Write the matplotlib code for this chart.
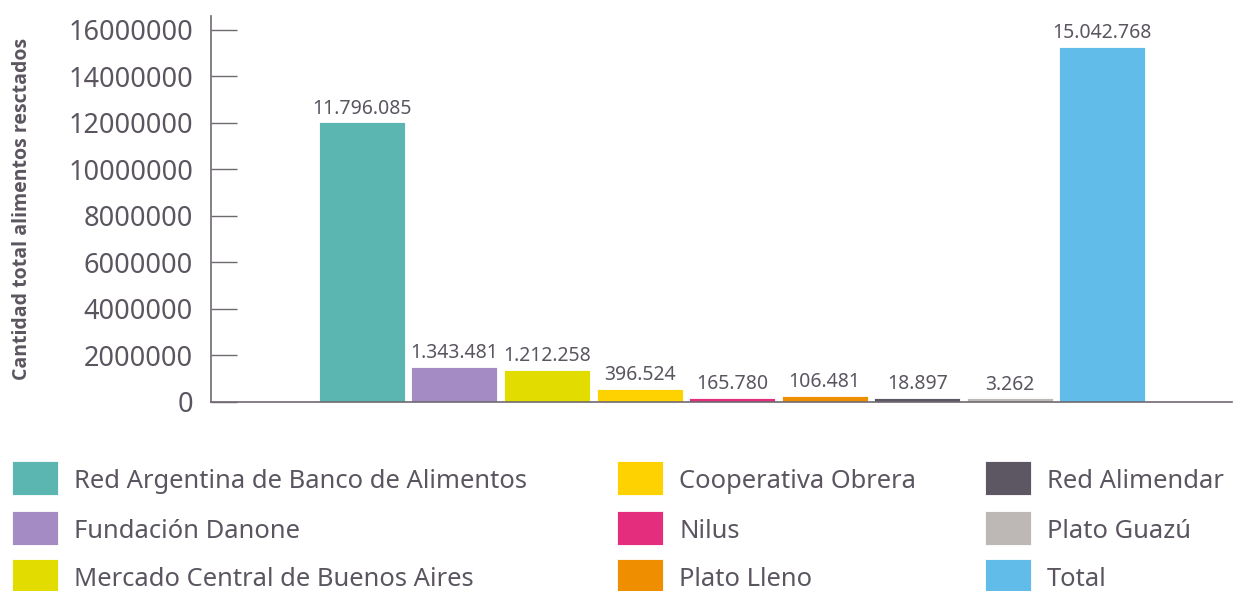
import matplotlib.pyplot as plt
from matplotlib.patches import Rectangle

# organizaciones, en el orden de las barras
names = ["Red Argentina de Banco de Alimentos", "Fundación Danone",
         "Mercado Central de Buenos Aires", "Cooperativa Obrera", "Nilus",
         "Plato Lleno", "Red Alimendar", "Plato Guazú", "Total"]
# alturas de las barras tal como aparecen en el grafico
heights = [12020000, 1510000, 1370000, 550000, 170000, 260000, 170000, 150000, 15280000]
value_labels = ["11.796.085", "1.343.481", "1.212.258", "396.524", "165.780",
                "106.481", "18.897", "3.262", "15.042.768"]
colors = ["#5bb5b1", "#a58bc3", "#e3dc00", "#fdd200", "#e52d7e",
          "#ef8f00", "#5c5762", "#bdb8b5", "#61bcea"]
yticks = [0, 2000000, 4000000, 6000000, 8000000, 10000000, 12000000, 14000000, 16000000]

txt = "#5b5560"
axc = "#6e6a70"
plt.rcParams['font.family'] = ['Noto Sans', 'DejaVu Sans']

W, H = 1244, 591
fig = plt.figure(figsize=(W / 100, H / 100), dpi=100)
ax = fig.add_axes([211 / W, 1 - 401.7 / H, (1232 - 211) / W, (401.7 - 16) / H])

x = list(range(len(names)))
bars = ax.bar(x, heights, width=0.93, color=colors, edgecolor="white", linewidth=0.6)
for b, lab in zip(bars, value_labels):
    ax.annotate(lab, (b.get_x() + b.get_width() / 2, b.get_height()),
                xytext=(0, 2.5), textcoords="offset points",
                ha="center", va="bottom", fontsize=14, color=txt)

ax.set_xlim(-1.63, 9.40)
ax.set_ylim(0, 16600000)
ax.set_yticks(yticks)
ax.set_yticklabels([str(v) for v in yticks])
ax.set_xticks([])
ax.tick_params(axis="y", direction="in", length=18.7, width=1, color=axc,
               pad=13, labelsize=19.5, labelcolor=txt)
for s in ["top", "right"]:
    ax.spines[s].set_visible(False)
for s in ["left", "bottom"]:
    ax.spines[s].set_color(axc)
    ax.spines[s].set_linewidth(1.2)

fig.text(22 / W, 1 - 209 / H, "Cantidad total alimentos resctados", rotation=90,
         ha="center", va="center", fontsize=14, fontweight="bold", color=txt,
         family=["Open Sans", "DejaVu Sans"])

# leyenda manual en 3 columnas
col_x = [12, 617, 985]
row_y = [478, 528, 576]
pw, ph = 46, 34
for i, (n, c) in enumerate(zip(names, colors)):
    cx = col_x[i // 3]
    cy = row_y[i % 3]
    fig.patches.append(Rectangle((cx / W, 1 - (cy + ph / 2) / H), pw / W, ph / H,
                                 transform=fig.transFigure, facecolor=c,
                                 edgecolor="white", linewidth=0.6))
    fig.text((cx + pw + 16) / W, 1 - cy / H, n, ha="left", va="center_baseline",
             fontsize=18.4, color=txt)

fig.savefig("out.png", dpi=100)
